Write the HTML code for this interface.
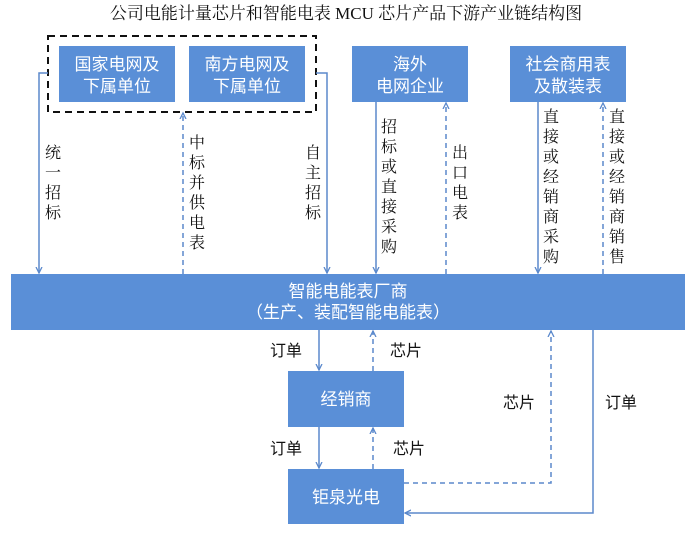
<!DOCTYPE html>
<html><head><meta charset="utf-8"><style>
html,body{margin:0;padding:0;background:#fff;}
svg{display:block;}
text{font-family:"Liberation Serif","Noto Serif CJK SC","Noto Sans CJK SC",serif;}
.w{fill:#fff;font-size:17px;font-family:"Liberation Sans","Noto Sans CJK SC",sans-serif;text-anchor:middle;}
.l{fill:#111;font-size:16px;font-family:"Liberation Sans","Noto Sans CJK SC",sans-serif;text-anchor:middle;}
.b{fill:#5a8fd7;}
.s{stroke:#5b89cc;stroke-width:1.5;fill:none;}
.d{stroke:#5b89cc;stroke-width:1.5;fill:none;stroke-dasharray:5,4;}
</style></head><body>
<svg width="692" height="534" viewBox="0 0 692 534" xmlns="http://www.w3.org/2000/svg">
<defs>
<marker id="a" markerWidth="8" markerHeight="8" refX="6" refY="4" orient="auto" markerUnits="userSpaceOnUse">
<path d="M0,1 L6,4 L0,7" fill="none" stroke="#5b89cc" stroke-width="1.3"/>
</marker>
</defs>
<text x="346" y="19" font-size="17" text-anchor="middle" fill="#111">公司电能计量芯片和智能电表 MCU 芯片产品下游产业链结构图</text>
<rect x="48" y="36" width="268" height="76" fill="none" stroke="#111" stroke-width="2" stroke-dasharray="7,5"/>
<rect class="b" x="59" y="46" width="116" height="56"/>
<rect class="b" x="189" y="46" width="116" height="56"/>
<rect class="b" x="352" y="46" width="116" height="56"/>
<rect class="b" x="510" y="46" width="116" height="56"/>
<text class="w" x="117" y="70">国家电网及</text><text class="w" x="117" y="92">下属单位</text>
<text class="w" x="247" y="70">南方电网及</text><text class="w" x="247" y="92">下属单位</text>
<text class="w" x="410" y="70">海外</text><text class="w" x="410" y="92">电网企业</text>
<text class="w" x="568" y="70">社会商用表</text><text class="w" x="568" y="92">及散装表</text>
<rect class="b" x="11" y="274" width="674" height="56"/>
<text class="w" x="348" y="297">智能电能表厂商</text>
<text class="w" x="348" y="318">（生产、装配智能电能表）</text>
<rect class="b" x="288" y="371" width="116" height="56"/>
<text class="w" x="346" y="405">经销商</text>
<rect class="b" x="288" y="469" width="116" height="55"/>
<text class="w" x="346" y="503">钜泉光电</text>
<path class="s" d="M48,73 H39 V273" marker-end="url(#a)"/>
<path class="s" d="M316,73 H327 V273" marker-end="url(#a)"/>
<path class="d" d="M183,274 V113" marker-end="url(#a)"/>
<path class="s" d="M376,102 V273" marker-end="url(#a)"/>
<path class="d" d="M446,274 V103" marker-end="url(#a)"/>
<path class="s" d="M538,102 V273" marker-end="url(#a)"/>
<path class="d" d="M603,274 V103" marker-end="url(#a)"/>
<g class="l">
<text x="53" y="158">统</text><text x="53" y="178">一</text><text x="53" y="198">招</text><text x="53" y="218">标</text>
<text x="197" y="148">中</text><text x="197" y="168">标</text><text x="197" y="188">并</text><text x="197" y="208">供</text><text x="197" y="228">电</text><text x="197" y="248">表</text>
<text x="313" y="158">自</text><text x="313" y="178">主</text><text x="313" y="198">招</text><text x="313" y="218">标</text>
<text x="389" y="132">招</text><text x="389" y="152">标</text><text x="389" y="172">或</text><text x="389" y="192">直</text><text x="389" y="212">接</text><text x="389" y="232">采</text><text x="389" y="252">购</text>
<text x="460" y="158">出</text><text x="460" y="178">口</text><text x="460" y="198">电</text><text x="460" y="218">表</text>
<text x="551" y="122">直</text><text x="551" y="142">接</text><text x="551" y="162">或</text><text x="551" y="182">经</text><text x="551" y="202">销</text><text x="551" y="222">商</text><text x="551" y="242">采</text><text x="551" y="262">购</text>
<text x="617" y="122">直</text><text x="617" y="142">接</text><text x="617" y="162">或</text><text x="617" y="182">经</text><text x="617" y="202">销</text><text x="617" y="222">商</text><text x="617" y="242">销</text><text x="617" y="262">售</text>
</g>
<path class="s" d="M319,330 V370" marker-end="url(#a)"/>
<path class="d" d="M373,371 V331" marker-end="url(#a)"/>
<path class="s" d="M319,427 V468" marker-end="url(#a)"/>
<path class="d" d="M373,469 V428" marker-end="url(#a)"/>
<path class="d" d="M404,483 H551 V331" marker-end="url(#a)"/>
<path class="s" d="M593,330 V513 H405" marker-end="url(#a)"/>
<text class="l" x="286" y="356">订单</text>
<text class="l" x="406" y="356">芯片</text>
<text class="l" x="286" y="454">订单</text>
<text class="l" x="409" y="454">芯片</text>
<text class="l" x="519" y="408">芯片</text>
<text class="l" x="621" y="408">订单</text>
</svg>
</body></html>
